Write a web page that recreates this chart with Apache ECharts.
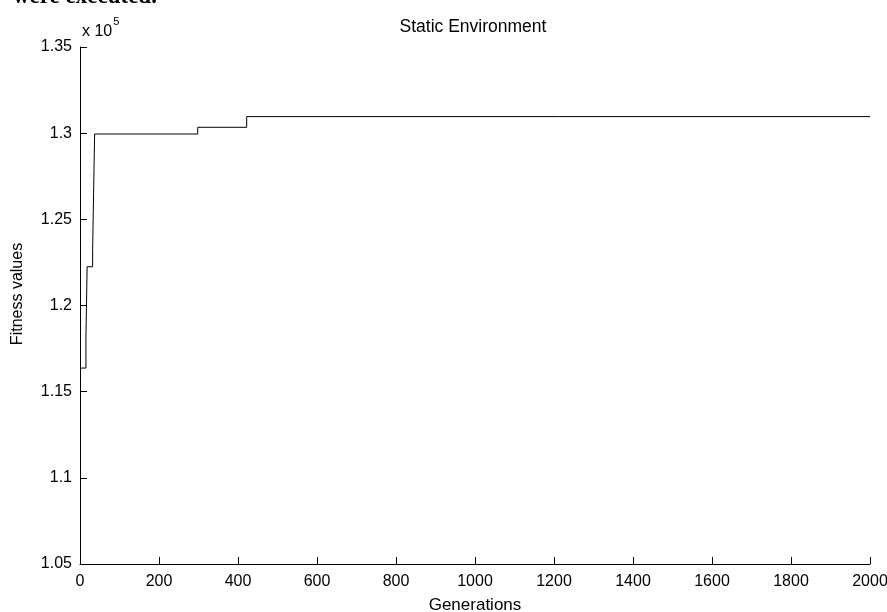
<!DOCTYPE html>
<html>
<head>
<meta charset="utf-8">
<script src="https://cdn.jsdelivr.net/npm/echarts@6/dist/echarts.min.js"></script>
<style>
html,body{margin:0;padding:0;background:#fff;}
#chart{width:887px;height:612px;}
</style>
</head>
<body>
<div id="chart"></div>
<script>
// Generation at which the best fitness changes, and the new fitness value
var generations = [0, 15, 18, 32, 37, 298, 422, 2000];
var fitnessValues = [116370, 118060, 122250, 123260, 129950, 130340, 130960, 130960];
var yTickValues = [105000, 110000, 115000, 120000, 125000, 130000, 135000];
var yTickLabels = ['1.05', '1.1', '1.15', '1.2', '1.25', '1.3', '1.35'];
var xTickLabels = ['0','200','400','600','800','1000','1200','1400','1600','1800','2000'];

var FONT = 'Liberation Sans, Arial, sans-serif';
var chart = echarts.init(document.getElementById('chart'), null, {renderer: 'canvas'});

var points = generations.map(function (g, i) { return [g, fitnessValues[i]]; });

chart.setOption({
  backgroundColor: '#fff',
  animation: false,
  title: {
    text: 'Static Environment',
    left: 468, top: 13,
    textAlign: 'center',
    textStyle: {fontFamily: FONT, fontSize: 17.5, fontWeight: 'normal', color: '#000'}
  },
  grid: {left: 80, right: 17, top: 47, bottom: 48, containLabel: false, outerBoundsMode: 'none'},
  xAxis: {
    type: 'value', min: 0, max: 2000, interval: 200,
    axisLine: {show: true, lineStyle: {color: '#000', width: 1}},
    axisTick: {show: true, inside: true, length: 7, lineStyle: {color: '#000'}},
    splitLine: {show: false},
    axisLabel: {
      margin: 10, color: '#000', fontFamily: FONT, fontSize: 16,
      formatter: function (v) { return xTickLabels[Math.round(v / 200)]; }
    },
    name: 'Generations', nameLocation: 'middle', nameGap: 33,
    nameTextStyle: {fontFamily: FONT, fontSize: 17, color: '#000'}
  },
  yAxis: {
    type: 'value', min: 105000, max: 135000, interval: 5000,
    axisLine: {show: true, lineStyle: {color: '#000', width: 1}},
    axisTick: {show: true, inside: true, length: 7, lineStyle: {color: '#000'}},
    splitLine: {show: false},
    axisLabel: {
      margin: 8, color: '#000', fontFamily: FONT, fontSize: 16,
      formatter: function (v) {
        var i = yTickValues.indexOf(v);
        return i >= 0 ? yTickLabels[i] : '';
      }
    }
  },
  graphic: [
    {
      type: 'text', left: 13, top: -14,
      style: {text: 'were executed.', font: 'bold 23px "Liberation Serif", "Times New Roman", serif', fill: '#000'}
    },
    {
      type: 'text', left: 82, top: 16,
      style: {
        text: '{a|x 10}{b|5}',
        rich: {
          a: {fontFamily: FONT, fontSize: 16, color: '#000', verticalAlign: 'bottom', padding: [8, 0, 0, 0]},
          b: {fontFamily: FONT, fontSize: 11, color: '#000', verticalAlign: 'top', padding: [0, 0, 0, 1]}
        }
      }
    },
    {
      type: 'text', x: 18, y: 294, rotation: Math.PI / 2,
      style: {text: 'Fitness values', fontFamily: FONT, fontSize: 16, fill: '#000', align: 'center', verticalAlign: 'middle'}
    }
  ],
  series: [{
    type: 'line',
    step: 'end',
    data: points,
    showSymbol: false,
    lineStyle: {color: '#000', width: 1},
    itemStyle: {color: '#000'}
  }]
});
</script>
</body>
</html>
